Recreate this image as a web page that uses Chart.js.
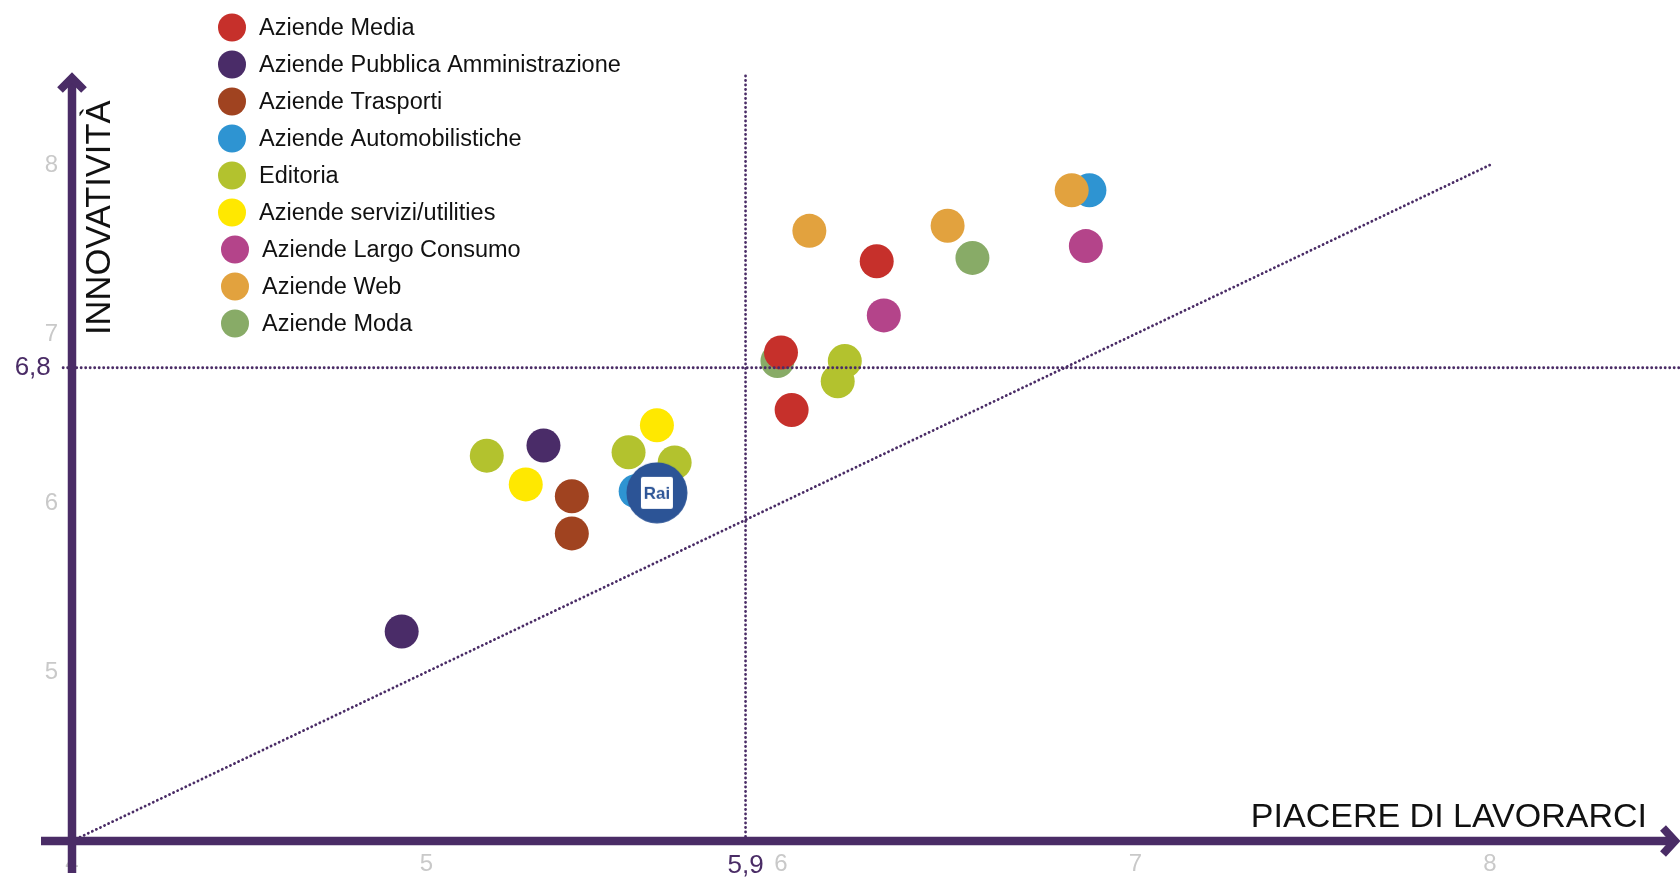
<!DOCTYPE html>
<html>
<head>
<meta charset="utf-8">
<script src="https://cdn.jsdelivr.net/npm/chart.js@4"></script>
<style>
  html, body { margin: 0; padding: 0; background: #fff; overflow: hidden; }
  #wrap { width: 1680px; height: 879px; }
</style>
</head>
<body>
<div id="wrap"><canvas id="chart"></canvas></div>
<script>
// legend categories, in legend order
const categories = [
    'Aziende Media',
    'Aziende Pubblica Amministrazione',
    'Aziende Trasporti',
    'Aziende Automobilistiche',
    'Editoria',
    'Aziende servizi/utilities',
    'Aziende Largo Consumo',
    'Aziende Web',
    'Aziende Moda'
];

// [piacere di lavorarci, innovatività] for each company
const media = [[6.00, 6.89], [6.03, 6.55], [6.27, 7.43]];
const pubblicaAmm = [[5.33, 6.34], [4.93, 5.24]];
const trasporti = [[5.41, 6.04], [5.41, 5.82]];
const automobilistiche = [[6.87, 7.85], [5.59, 6.07]];
const editoria = [[5.17, 6.28], [5.57, 6.30], [5.70, 6.24], [6.18, 6.84], [6.16, 6.72]];
const servizi = [[5.65, 6.46], [5.28, 6.11]];
const largoConsumo = [[6.29, 7.11], [6.86, 7.52]];
const web = [[6.08, 7.61], [6.47, 7.64], [6.82, 7.85]];
const moda = [[6.54, 7.45], [5.99, 6.84]];
const rai = [[5.65, 6.06]];

const seriesValues = [media, pubblicaAmm, trasporti, automobilistiche, editoria, servizi, largoConsumo, web, moda];

// axes
const xTicks = [4, 5, 5.9, 6, 7, 8];
const yTicks = [5, 6, 6.8, 7, 8];
const xMin = 4, xMax = 8.536;
const yMin = 4, yMax = 8.55;
const xThreshold = 5.9;   // average "piacere di lavorarci"
const yThreshold = 6.8;   // average "innovatività"
const bisector = [4, 8];  // y = x line

const purple = '#4A2C66';
const colors = ['#C6302B', '#4A2C68', '#A04320', '#2E94D2', '#B3C22E', '#FFE800', '#B4448A', '#E2A23E', '#88AB67'];
const drawOrder = [1, 9, 8, 7, 4, 3, 5, 2, 6]; // lower = on top
const raiBlue = '#2C5496';
const FONT = '"Liberation Sans", Arial, sans-serif';

// Rai logo used as point style
const raiLogo = document.createElement('canvas');
raiLogo.width = 62;
raiLogo.height = 62;
(function() {
    const c = raiLogo.getContext('2d');
    c.fillStyle = raiBlue;
    c.beginPath();
    c.arc(31, 31, 30.5, 0, Math.PI * 2);
    c.fill();
    c.fillStyle = '#fff';
    c.beginPath();
    c.roundRect(15, 15, 32, 32, 2);
    c.fill();
    c.fillStyle = raiBlue;
    c.font = 'bold 17px ' + FONT;
    c.textAlign = 'center';
    c.textBaseline = 'middle';
    c.fillText('Rai', 31, 32);
})();

const toPoints = arr => arr.map(p => ({x: p[0], y: p[1]}));

const dotted = {
    showLine: true,
    borderColor: purple,
    borderWidth: 2.8,
    borderDash: [0.1, 4.4],
    borderCapStyle: 'round',
    pointRadius: 0,
    clip: false,
    order: -1
};

const datasets = categories.map((name, i) => ({
    label: name,
    data: toPoints(seriesValues[i]),
    backgroundColor: colors[i],
    borderColor: colors[i],
    borderWidth: 0,
    pointRadius: 17,
    pointHoverRadius: 17,
    order: drawOrder[i],
    inLegend: true
}));

datasets.push({
    label: 'Rai',
    data: toPoints(rai),
    pointStyle: raiLogo,
    pointRadius: 30,
    order: 0
});

datasets.push(Object.assign({label: 'bisector', data: bisector.map(v => ({x: v, y: v}))}, dotted));
datasets.push(Object.assign({label: 'yThreshold', data: [{x: xMin - 0.025, y: yThreshold}, {x: xMax, y: yThreshold}]}, dotted));
datasets.push(Object.assign({label: 'xThreshold', data: [{x: xThreshold, y: yMin}, {x: xThreshold, y: 8.53}]}, dotted));

const fmt = v => String(v).replace('.', ',');
const isRef = ctx => ctx.tick && !Number.isInteger(ctx.tick.value);
const tickColor = ctx => isRef(ctx) ? purple : '#C9C9C9';
const tickFont = ctx => ({family: FONT, size: isRef(ctx) ? 26 : 24});

// axes with arrows, axis titles, legend
const overlay = {
    id: 'overlay',
    afterDatasetsDraw(chart) {
        const {ctx, scales: {x, y}} = chart;
        const x0 = x.getPixelForValue(xMin);
        const y0 = y.getPixelForValue(yMin);
        ctx.save();
        ctx.strokeStyle = purple;
        ctx.lineWidth = 8.5;
        ctx.lineCap = 'butt';
        ctx.lineJoin = 'miter';
        ctx.beginPath();
        ctx.moveTo(x0 - 31, y0);
        ctx.lineTo(chart.width - 6, y0);
        ctx.moveTo(x0, y0 + 32);
        ctx.lineTo(x0, 78);
        ctx.stroke();
        // arrow heads
        ctx.lineWidth = 8;
        ctx.beginPath();
        ctx.moveTo(chart.width - 17, y0 - 13);
        ctx.lineTo(chart.width - 5, y0);
        ctx.lineTo(chart.width - 17, y0 + 13);
        ctx.moveTo(x0 - 12, 90);
        ctx.lineTo(x0, 78);
        ctx.lineTo(x0 + 12, 90);
        ctx.stroke();
        ctx.restore();
    },
    afterDraw(chart) {
        const ctx = chart.ctx;
        ctx.save();
        ctx.fillStyle = '#111';
        ctx.font = '34px ' + FONT;
        ctx.textAlign = 'right';
        ctx.textBaseline = 'alphabetic';
        ctx.fillText('PIACERE DI LAVORARCI', 1647, 827);
        ctx.save();
        ctx.translate(110, 335);
        ctx.rotate(-Math.PI / 2);
        ctx.textAlign = 'left';
        ctx.font = '34.5px ' + FONT;
        ctx.fillText('INNOVATIVITÀ', 0, 0);
        ctx.restore();

        // legend (last three rows sit slightly further right, as in the original)
        ctx.font = '23.5px ' + FONT;
        ctx.textAlign = 'left';
        ctx.textBaseline = 'middle';
        chart.data.datasets.filter(d => d.inLegend).forEach((d, i) => {
            const cy = 27.5 + i * 37;
            const dx = i >= 6 ? 3 : 0;
            ctx.fillStyle = d.backgroundColor;
            ctx.beginPath();
            ctx.arc(232 + dx, cy, 14, 0, Math.PI * 2);
            ctx.fill();
            ctx.fillStyle = '#111';
            ctx.fillText(d.label, 259 + dx, cy + 1);
        });
        ctx.restore();
    }
};

new Chart(document.getElementById('chart'), {
    type: 'scatter',
    data: {datasets: datasets},
    options: {
        responsive: true,
        maintainAspectRatio: false,
        animation: false,
        events: [],
        layout: {autoPadding: false, padding: {top: 72, left: 0, right: 0, bottom: 0}},
        plugins: {
            legend: {display: false},
            tooltip: {enabled: false}
        },
        scales: {
            x: {
                type: 'linear',
                min: xMin,
                max: xMax,
                grid: {display: false, drawTicks: false},
                border: {display: false},
                afterBuildTicks: s => { s.ticks = xTicks.map(v => ({value: v})); },
                afterFit: s => { s.height = 38; },
                ticks: {
                    autoSkip: false,
                    maxRotation: 0,
                    padding: 9,
                    font: tickFont,
                    color: tickColor,
                    callback: v => fmt(v)
                }
            },
            y: {
                type: 'linear',
                min: yMin,
                max: yMax,
                grid: {display: false, drawTicks: false},
                border: {display: false},
                afterBuildTicks: s => { s.ticks = yTicks.map(v => ({value: v})); },
                afterFit: s => { s.width = 72; },
                ticks: {
                    autoSkip: false,
                    padding: 14,
                    font: tickFont,
                    color: tickColor,
                    callback: v => Number.isInteger(v) ? fmt(v) : fmt(v) + ' '
                }
            }
        }
    },
    plugins: [overlay]
});
</script>
</body>
</html>
